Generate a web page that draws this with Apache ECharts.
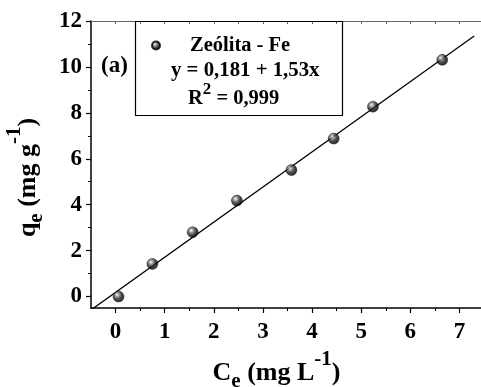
<!DOCTYPE html>
<html>
<head>
<meta charset="utf-8">
<script src="https://cdn.jsdelivr.net/npm/echarts@6/dist/echarts.min.js"></script>
<style>
  html, body { margin: 0; padding: 0; background: #fff; }
  #chart { width: 481px; height: 387px; }
</style>
</head>
<body>
<div id="chart"></div>
<script>
// Equilibrium concentration Ce (mg L-1) and adsorbed amount qe (mg g-1)
const ceValues = [0.06, 0.75, 1.57, 2.47, 3.58, 4.44, 5.24, 6.65];
const qeValues = [0.00, 1.42, 2.80, 4.18, 5.51, 6.88, 8.27, 10.31];

// Linear fit reported in the legend box
const fitIntercept = 0.181;
const fitSlope = 1.53;
const fitXRange = [-0.5, 7.3];

// Axis ticks and labels
const xMajorTicks = [0, 1, 2, 3, 4, 5, 6, 7];
const xMinorTicks = [0.5, 1.5, 2.5, 3.5, 4.5, 5.5, 6.5, 7.5];
const yMajorTicks = [0, 2, 4, 6, 8, 10, 12];
const yMinorTicks = [1, 3, 5, 7, 9, 11];
const xTopTicks = [0, 0.5, 1, 1.5, 2, 2.5, 3, 3.5, 4, 4.5, 5, 5.5, 6, 6.5, 7, 7.5];

const seriesName = 'Zeólita - Fe';
const equationText = 'y = 0,181 + 1,53x';
const r2Value = '0,999';
const panelLabel = '(a)';

const FONT = '"Liberation Serif", "Times New Roman", serif';

const points = ceValues.map((x, i) => [x, qeValues[i]]);
const fitLine = fitXRange.map(x => [x, fitIntercept + fitSlope * x]);

const sphere = {
  type: 'radial', x: 0.38, y: 0.35, r: 0.65,
  colorStops: [
    { offset: 0, color: '#ffffff' },
    { offset: 0.25, color: '#8a8a8a' },
    { offset: 0.6, color: '#1a1a1a' },
    { offset: 1, color: '#000000' }
  ]
};

// Rich styles for axis titles with sub- and superscripts
const nameRich = {
  b: { fontFamily: FONT, fontWeight: 700, fontSize: 26, lineHeight: 50, color: '#000', verticalAlign: 'middle' },
  sub: { fontFamily: FONT, fontWeight: 700, fontSize: 21, color: '#000', verticalAlign: 'bottom', padding: [0, 0, 6, 0] },
  sup: { fontFamily: FONT, fontWeight: 700, fontSize: 21, color: '#000', verticalAlign: 'top', padding: [1, 0, 0, 0] }
};

const tickRich = { t: { fontFamily: FONT, fontWeight: 700, fontSize: 23, color: '#000' } };

const chart = echarts.init(document.getElementById('chart'), null, { renderer: 'canvas' });

chart.setOption({
  animation: false,
  backgroundColor: '#fff',
  grid: { left: 91, top: 21, right: -3, bottom: 79, containLabel: false, outerBoundsMode: 'none' },
  xAxis: [
    {
      type: 'value', min: -0.5, max: 7.5, position: 'bottom',
      axisLine: { show: true, onZero: false, lineStyle: { color: '#000', width: 1.5 } },
      axisTick: { show: true, length: 5, customValues: xMajorTicks, lineStyle: { color: '#000', width: 1.2 } },
      axisLabel: { margin: 13, customValues: xMajorTicks, formatter: '{t|{value}}', rich: tickRich },
      splitLine: { show: false },
      name: '{b|C}{sub|e}{b| (mg L}{sup|-1}{b|)}',
      nameLocation: 'middle', nameGap: 40,
      nameTextStyle: { rich: nameRich, padding: [0, 22, 0, 0] }
    },
    {
      type: 'value', min: -0.5, max: 7.5, position: 'bottom',
      axisLine: { show: false, onZero: false },
      axisTick: { show: true, length: 3, customValues: xMinorTicks, lineStyle: { color: '#000', width: 1 } },
      axisLabel: { show: false },
      splitLine: { show: false }
    },
    {
      type: 'value', min: -0.5, max: 7.5, position: 'top',
      axisLine: { show: true, onZero: false, lineStyle: { color: '#666', width: 1.2 } },
      axisTick: { show: true, inside: true, length: 3, customValues: xTopTicks, lineStyle: { color: '#666', width: 1 } },
      axisLabel: { show: false },
      splitLine: { show: false }
    }
  ],
  yAxis: [
    {
      type: 'value', min: -0.5, max: 12, position: 'left',
      axisLine: { show: true, onZero: false, lineStyle: { color: '#000', width: 1.5 } },
      axisTick: { show: true, length: 5, customValues: yMajorTicks, lineStyle: { color: '#000', width: 1.2 } },
      axisLabel: { margin: 9, customValues: yMajorTicks, formatter: '{t|{value}}', rich: tickRich },
      splitLine: { show: false },
      name: '{b|q}{sub|e}{b| (mg g}{sup|-1}{b|)}',
      nameLocation: 'middle', nameGap: 38, nameRotate: 90,
      nameTextStyle: { rich: nameRich, padding: [0, 26, 0, 0] }
    },
    {
      type: 'value', min: -0.5, max: 12, position: 'left',
      axisLine: { show: false, onZero: false },
      axisTick: { show: true, length: 3, customValues: yMinorTicks, lineStyle: { color: '#000', width: 1 } },
      axisLabel: { show: false },
      splitLine: { show: false }
    }
  ],
  legend: {
    show: true, z: 10,
    left: 146, top: 30,
    itemWidth: 8, itemHeight: 8, itemGap: 0,
    icon: 'circle',
    data: [{ name: seriesName, itemStyle: { color: sphere } }],
    textStyle: { fontFamily: FONT, fontWeight: 700, fontSize: 20.5, color: '#000', padding: [0, 0, 0, 25] },
    selectedMode: false
  },
  graphic: [
    {
      type: 'rect', z: 1,
      shape: { x: 135.5, y: 21.5, width: 207, height: 94 },
      style: { fill: 'none', stroke: '#000', lineWidth: 1.2 }
    },
    {
      type: 'text', z: 6, left: 171, top: 60,
      style: { text: equationText, font: 'bold 20.8px ' + FONT, fill: '#000' }
    },
    {
      type: 'text', z: 6, left: 188, top: 81,
      style: {
        text: '{b|R}{sup|2}{b| = ' + r2Value + '}',
        rich: {
          b: { font: 'bold 20.5px ' + FONT, fill: '#000', lineHeight: 28, verticalAlign: 'bottom' },
          sup: { font: 'bold 17px ' + FONT, fill: '#000', lineHeight: 18, verticalAlign: 'top' }
        }
      }
    },
    {
      type: 'text', z: 6, left: 101, top: 55,
      style: { text: panelLabel, font: 'bold 23px ' + FONT, fill: '#000' }
    }
  ],
  series: [
    {
      type: 'line', name: 'fit', data: fitLine,
      xAxisIndex: 0, yAxisIndex: 0,
      showSymbol: false, symbol: 'none', clip: true,
      lineStyle: { color: '#000', width: 1.3 }, z: 2, silent: true
    },
    {
      type: 'scatter', name: seriesName, data: points,
      xAxisIndex: 0, yAxisIndex: 0,
      symbol: 'circle', symbolSize: 11,
      itemStyle: { color: sphere, borderColor: '#000', borderWidth: 0.5 },
      z: 3
    }
  ]
});
</script>
</body>
</html>
